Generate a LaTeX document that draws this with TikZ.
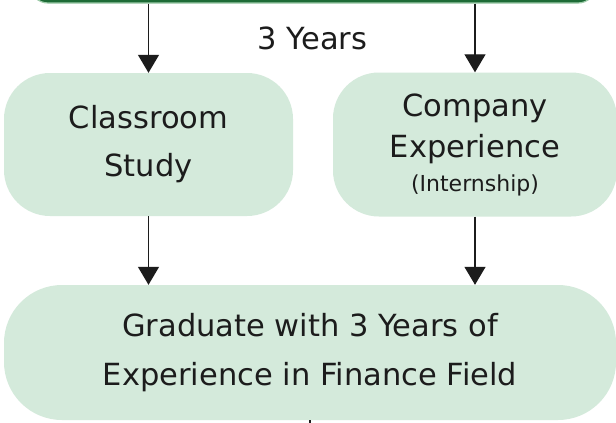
\documentclass[tikz,border=0pt]{standalone}
\usepackage{fontspec}
\setmainfont{DejaVu Sans}
\usetikzlibrary{arrows.meta}
\definecolor{boxfill}{HTML}{D4EADB}
\definecolor{topgreen}{HTML}{1D6B36}
\definecolor{topedge}{HTML}{9CCBA8}
\definecolor{ink}{HTML}{1C1C1C}
\tikzset{
  box/.style={shape=rectangle, fill=boxfill, draw=none, text=ink, align=center, inner sep=0pt},
  conn/.style={draw=ink, line width=1.3pt, -{Triangle[width=21pt,length=18pt]}},
  plain/.style={draw=ink, line width=1.3pt},
  lbl/.style={text=ink, inner sep=0pt, font=\fontsize{30.5}{36}\selectfont}
}
\begin{document}
\begin{tikzpicture}[x=1pt,y=-1pt]
\useasboundingbox (0,0) rectangle (616,423);
\fill[white] (0,0) rectangle (616,423);
% top box (cut off)
\node[shape=rectangle, fill=topgreen, draw=topedge, line width=1.2pt, rounded corners=18pt,
      minimum width=566pt, minimum height=60pt, inner sep=0pt] (top) at (313,-27) {};
% middle boxes
\node[box, rounded corners=46pt, minimum width=289pt, minimum height=143pt,
      font=\fontsize{30.5}{48}\selectfont] (cls) at (148.5,144.5) {Classroom\\Study};
\node[box, rounded corners=46pt, minimum width=284pt, minimum height=144pt,
      font=\fontsize{30.5}{41}\selectfont] (comp) at (475,144.5)
      {Company\\Experience\\[-7pt]{\fontsize{22}{26}\selectfont(Internship)}};
% bottom box
\node[box, rounded corners=58pt, minimum width=612pt, minimum height=135pt,
      font=\fontsize{30.5}{49}\selectfont] (bot) at (310,352.5)
      {Graduate with 3 Years of\\Experience in Finance Field};
% label
\node[lbl, anchor=base] (yrs) at (312.5,49) {3 Years};
% connectors
\draw[conn] (top.south -| cls.north) -- (cls.north);
\draw[conn] (top.south -| comp.north) -- (comp.north);
\draw[conn] (cls.south) -- (bot.north -| cls.south);
\draw[conn] (comp.south) -- (bot.north -| comp.south);
\coordinate (tail) at (310,440);
\draw[plain] (bot.south) -- (tail);
\end{tikzpicture}
\end{document}
